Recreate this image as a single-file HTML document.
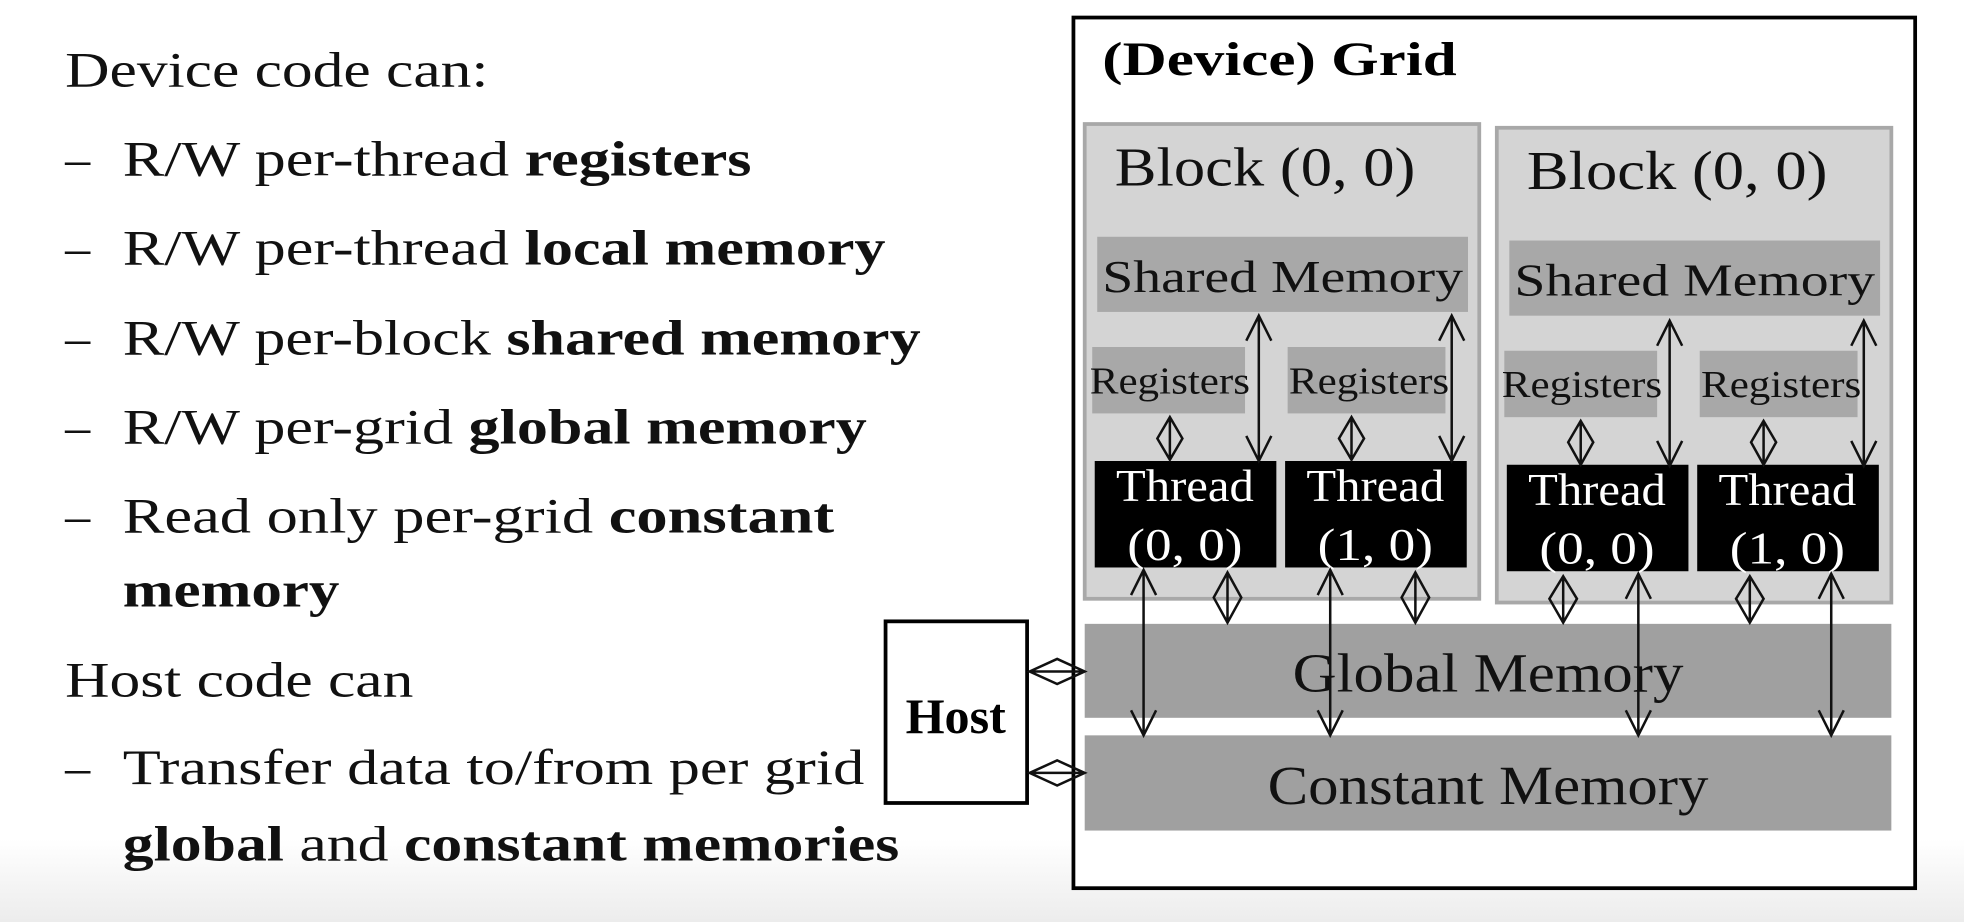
<!DOCTYPE html>
<html><head><meta charset="utf-8"><style>
html,body{margin:0;padding:0;width:1964px;height:922px;overflow:hidden;background:#fff}
svg{display:block}
text{font-family:"Liberation Serif",serif}
</style></head><body>
<svg width="1964" height="922" viewBox="0 0 1568 736" preserveAspectRatio="none">
<defs>
<linearGradient id="bg" x1="0" y1="0" x2="0" y2="1"><stop offset="0" stop-color="#fff"/><stop offset="1" stop-color="#ececec"/></linearGradient>
</defs>
<rect x="0" y="0" width="1568" height="736" fill="#fff"/>
<rect x="0" y="670" width="1568" height="66" fill="url(#bg)"/>
<g font-size="40" fill="#111">
<text x="52" y="69" textLength="338" lengthAdjust="spacingAndGlyphs">Device code can:</text>
<text x="52" y="140">–</text><text x="98" y="140" textLength="502" lengthAdjust="spacingAndGlyphs">R/W per-thread <tspan font-weight="bold">registers</tspan></text>
<text x="52" y="211">–</text><text x="98" y="211" textLength="609" lengthAdjust="spacingAndGlyphs">R/W per-thread <tspan font-weight="bold">local memory</tspan></text>
<text x="52" y="283">–</text><text x="98" y="283" textLength="637" lengthAdjust="spacingAndGlyphs">R/W per-block <tspan font-weight="bold">shared memory</tspan></text>
<text x="52" y="354">–</text><text x="98" y="354" textLength="594" lengthAdjust="spacingAndGlyphs">R/W per-grid <tspan font-weight="bold">global memory</tspan></text>
<text x="52" y="425">–</text><text x="98" y="425" textLength="568" lengthAdjust="spacingAndGlyphs">Read only per-grid <tspan font-weight="bold">constant</tspan></text>
<text x="98" y="484" font-weight="bold" textLength="173" lengthAdjust="spacingAndGlyphs">memory</text>
<text x="52" y="556" textLength="278" lengthAdjust="spacingAndGlyphs">Host code can</text>
<text x="52" y="626">–</text><text x="98" y="626" textLength="592" lengthAdjust="spacingAndGlyphs">Transfer data to/from per grid</text>
<text x="98" y="687" textLength="620" lengthAdjust="spacingAndGlyphs"><tspan font-weight="bold">global</tspan> and <tspan font-weight="bold">constant memories</tspan></text>
</g>
<rect x="857" y="14" width="672" height="695" fill="#fff" stroke="#000" stroke-width="3"/>
<text x="880" y="60" font-size="38" font-weight="bold" textLength="283" lengthAdjust="spacingAndGlyphs">(Device) Grid</text>
<g id="b1">
<rect x="866" y="99" width="315" height="379" fill="#d4d4d4" stroke="#a8a8a8" stroke-width="3"/>
<text x="890" y="148" font-size="44" fill="#111" textLength="240" lengthAdjust="spacingAndGlyphs">Block (0, 0)</text>
<rect x="876" y="189" width="296" height="60" fill="#a8a8a8"/>
<text x="1024" y="233" font-size="36" text-anchor="middle" fill="#111" textLength="288" lengthAdjust="spacingAndGlyphs">Shared Memory</text>
<rect x="872" y="277" width="122" height="53" fill="#a8a8a8"/>
<rect x="1028" y="277" width="126" height="53" fill="#a8a8a8"/>
<text x="870" y="314" font-size="30" fill="#111" textLength="128" lengthAdjust="spacingAndGlyphs">Registers</text>
<text x="1029" y="314" font-size="30" fill="#111" textLength="128" lengthAdjust="spacingAndGlyphs">Registers</text>
<rect x="874" y="368" width="145" height="85" fill="#000"/>
<rect x="1026" y="368" width="145" height="85" fill="#000"/>
<g fill="#fff" font-size="36" text-anchor="middle">
<text x="946" y="400" textLength="110" lengthAdjust="spacingAndGlyphs">Thread</text><text x="946" y="447" textLength="92" lengthAdjust="spacingAndGlyphs">(0, 0)</text>
<text x="1098" y="400" textLength="110" lengthAdjust="spacingAndGlyphs">Thread</text><text x="1098" y="447" textLength="92" lengthAdjust="spacingAndGlyphs">(1, 0)</text>
</g>
</g>
<use href="#b1" transform="translate(329,3)"/>
<rect x="866" y="498" width="644" height="75" fill="#a0a0a0"/>
<text x="1188" y="552" font-size="44" text-anchor="middle" fill="#111" textLength="312" lengthAdjust="spacingAndGlyphs">Global Memory</text>
<rect x="866" y="587" width="644" height="76" fill="#a0a0a0"/>
<text x="1188" y="642" font-size="44" text-anchor="middle" fill="#111" textLength="352" lengthAdjust="spacingAndGlyphs">Constant Memory</text>
<rect x="707" y="496" width="113" height="145" fill="#fff" stroke="#000" stroke-width="3"/>
<text x="763" y="585" font-size="40" font-weight="bold" text-anchor="middle">Host</text>
<g stroke="#111" stroke-width="2" fill="none">
<path d="M1005 252V368M995 272L1005 252L1015 272M995 348L1005 368L1015 348"/>
<path d="M1159 252V368M1149 272L1159 252L1169 272M1149 348L1159 368L1169 348"/>
<path d="M1333 256V372M1323 276L1333 256L1343 276M1323 352L1333 372L1343 352"/>
<path d="M1488 256V372M1478 276L1488 256L1498 276M1478 352L1488 372L1498 352"/>
<path d="M913 455V587M903 475L913 455L923 475M903 567L913 587L923 567"/>
<path d="M1062 455V587M1052 475L1062 455L1072 475M1052 567L1062 587L1072 567"/>
<path d="M1308 458V587M1298 478L1308 458L1318 478M1298 567L1308 587L1318 567"/>
<path d="M1462 458V587M1452 478L1462 458L1472 478M1452 567L1462 587L1472 567"/>
<path d="M934 333V367M934 333L924 350L934 367L944 350Z"/>
<path d="M1079 333V367M1079 333L1069 350L1079 367L1089 350Z"/>
<path d="M1262 336V371M1262 336L1252 353L1262 371L1272 353Z"/>
<path d="M1408 336V371M1408 336L1398 353L1408 371L1418 353Z"/>
<path d="M980 457V497M980 457L969 477L980 497L991 477Z"/>
<path d="M1130 457V497M1130 457L1119 477L1130 497L1141 477Z"/>
<path d="M1248 460V497M1248 460L1237 478L1248 497L1259 478Z"/>
<path d="M1397 460V497M1397 460L1386 478L1397 497L1408 478Z"/>
<path d="M822 536H866M822 536L844 526L866 536L844 546Z"/>
<path d="M822 617H866M822 617L844 607L866 617L844 627Z"/>
</g>
</svg>
</body></html>
